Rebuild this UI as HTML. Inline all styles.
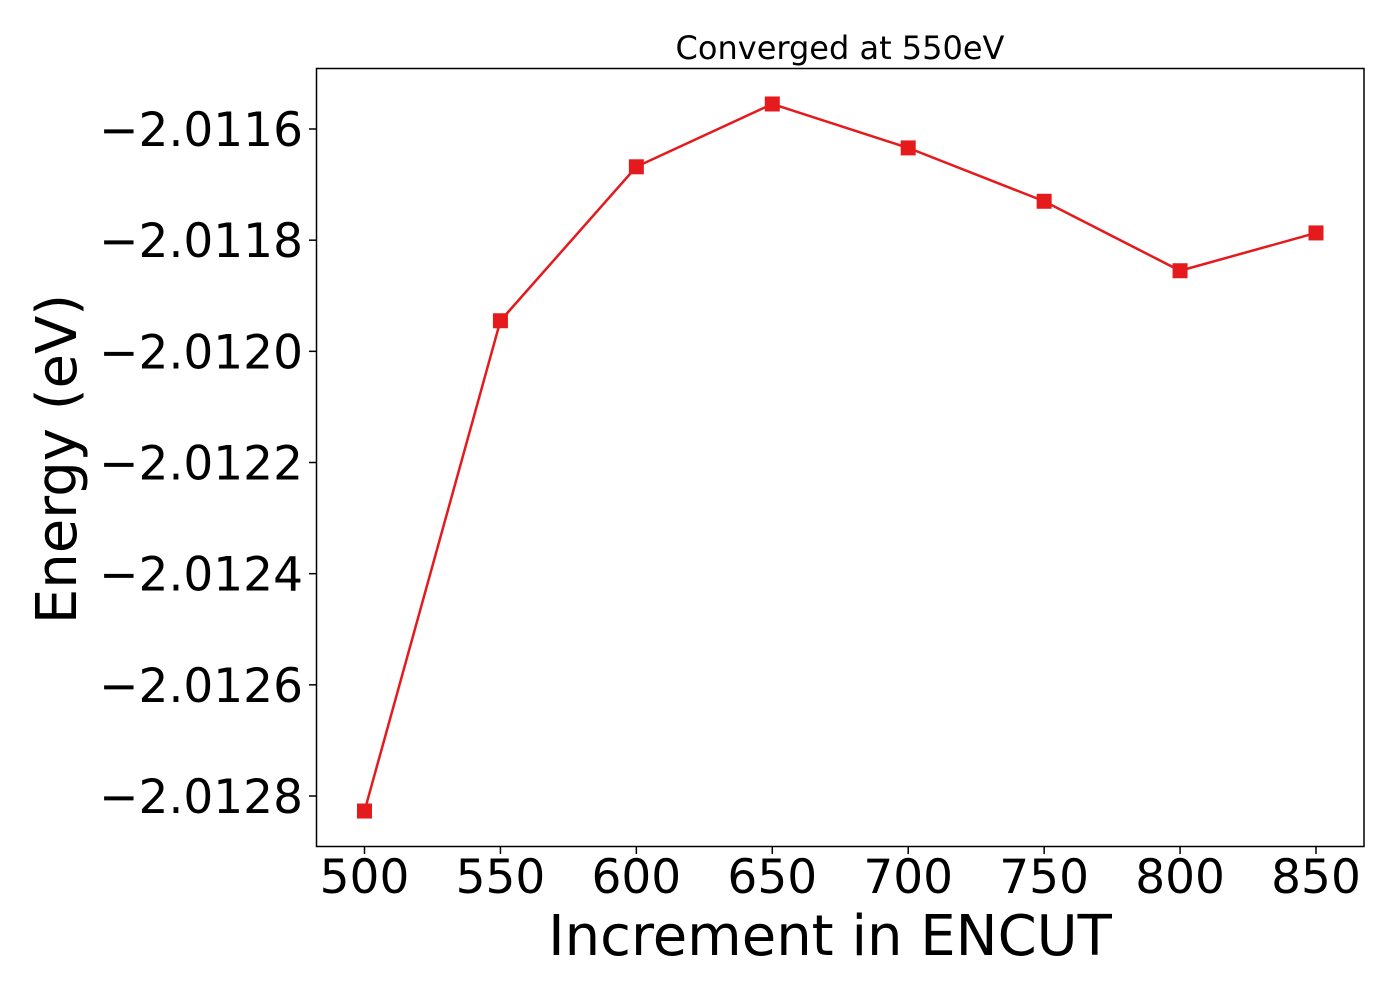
<!DOCTYPE html>
<html><head><meta charset="utf-8"><style>body{margin:0;background:#fff}svg{display:block;font-family:"DejaVu Sans","Liberation Sans",sans-serif}</style></head>
<body>
<svg id="chart" width="1400" height="1000">
<rect width="1400" height="1000" fill="#fff"/>
<text x="840" y="59" font-size="32" text-anchor="middle">Converged at 550eV</text>
<text x="830" y="955" font-size="56" text-anchor="middle">Increment in ENCUT</text>
<text transform="translate(76,459) rotate(-90)" font-size="56" text-anchor="middle">Energy (eV)</text>
<g id="xt"></g>
<g id="yt"></g>
<polyline id="line" fill="none" stroke="#e41a1c" stroke-width="2.5"/>
<g id="pts"></g>
<rect x="316.5" y="68.5" width="1047.5" height="778" fill="none" stroke="#000" stroke-width="1.5"/>
</svg>
<script>
const categories=[500,550,600,650,700,750,800,850];
const energies=[-2.012827,-2.011945,-2.011668,-2.011555,-2.011634,-2.011730,-2.011855,-2.011787];
const xTicks=[500,550,600,650,700,750,800,850];
const yTicks=[-2.0116,-2.0118,-2.0120,-2.0122,-2.0124,-2.0126,-2.0128];
const yTickLabels=["−2.0116","−2.0118","−2.0120","−2.0122","−2.0124","−2.0126","−2.0128"];
const NS="http://www.w3.org/2000/svg";
const xs=v=>364.5+(v-500)*(1316-364.5)/350;
const ys=v=>129+(-2.0116-v)/0.0002*111.17;
const xt=document.getElementById('xt'),yt=document.getElementById('yt');
xTicks.forEach(t=>{
 const l=document.createElementNS(NS,'line');
 
 
 l.setAttribute('x1',xs(t));l.setAttribute('x2',xs(t));l.setAttribute('y1',847);l.setAttribute('y2',854);l.setAttribute('stroke','#000');l.setAttribute('stroke-width','1.5');
 xt.appendChild(l);
 const tx=document.createElementNS(NS,'text');
 
 
 tx.setAttribute('x',xs(t));tx.setAttribute('y',893);tx.setAttribute('font-size','47');tx.setAttribute('text-anchor','middle');
 tx.textContent=t;xt.appendChild(tx);
});
yTicks.forEach((t,i)=>{
 const l=document.createElementNS(NS,'line');
 
 
 l.setAttribute('x1',309);l.setAttribute('x2',316);l.setAttribute('y1',ys(t));l.setAttribute('y2',ys(t));l.setAttribute('stroke','#000');l.setAttribute('stroke-width','1.5');
 yt.appendChild(l);
 const tx=document.createElementNS(NS,'text');
 
 
 tx.setAttribute('x',303);tx.setAttribute('y',ys(t)+17);tx.setAttribute('font-size','47');tx.setAttribute('text-anchor','end');
 tx.textContent=yTickLabels[i];yt.appendChild(tx);
});
document.getElementById('line').setAttribute('points',categories.map((c,i)=>xs(c)+','+ys(energies[i])).join(' '));
const pts=document.getElementById('pts');
categories.forEach((c,i)=>{
 const r=document.createElementNS(NS,'rect');
 
 
 r.setAttribute('x',xs(c)-7.5);r.setAttribute('y',ys(energies[i])-7.5);r.setAttribute('width',15);r.setAttribute('height',15);r.setAttribute('fill','#e41a1c');
 pts.appendChild(r);
});
</script>
</body></html>
